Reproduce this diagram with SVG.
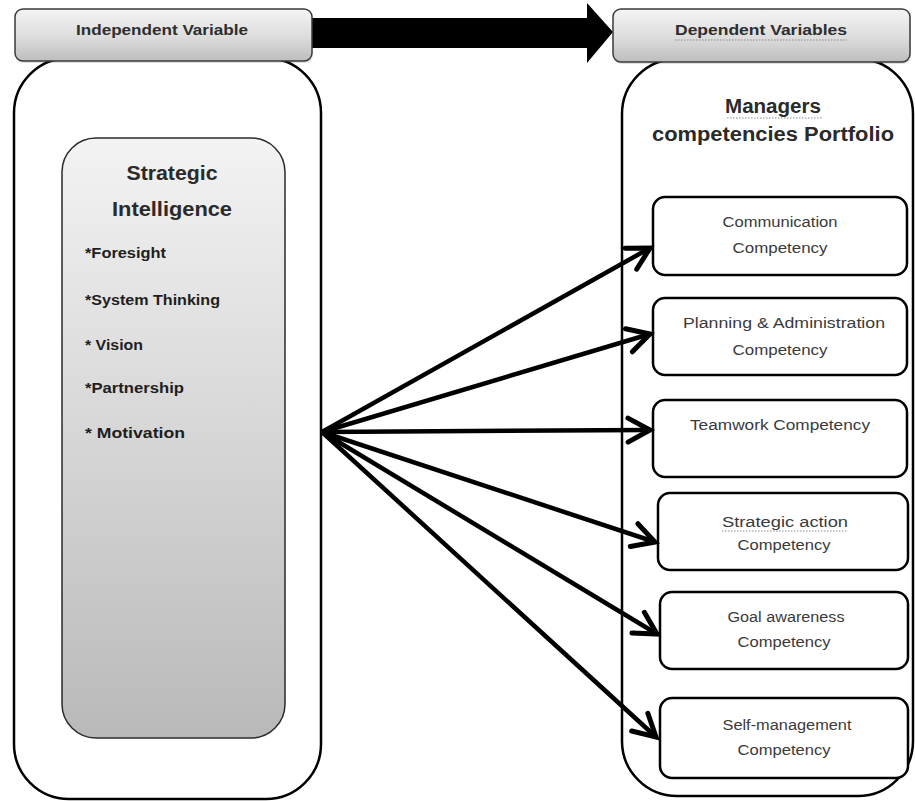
<svg xmlns="http://www.w3.org/2000/svg" width="915" height="801" viewBox="0 0 915 801">
  <defs>
    <linearGradient id="hdrGrad" x1="0" y1="0" x2="0" y2="1">
      <stop offset="0" stop-color="#f4f4f4"/>
      <stop offset="0.55" stop-color="#dcdcdc"/>
      <stop offset="1" stop-color="#bdbdbd"/>
    </linearGradient>
    <linearGradient id="innerGrad" x1="0" y1="0" x2="0" y2="1">
      <stop offset="0" stop-color="#f3f3f3"/>
      <stop offset="1" stop-color="#b9b9b9"/>
    </linearGradient>
    <marker id="openArrow" markerUnits="userSpaceOnUse" markerWidth="40" markerHeight="40" viewBox="-30 -20 40 40" refX="0" refY="0" orient="auto">
      <path d="M -22 -12 L 0 0 L -22 12" fill="none" stroke="#000" stroke-width="5" stroke-linejoin="miter" stroke-linecap="round"/>
    </marker>
  </defs>
  <style>
    .container { fill: #ffffff; stroke: #000000; stroke-width: 2.5; }
    .header { fill: url(#hdrGrad); stroke: #3a3a3a; stroke-width: 1.5; }
    .inner { fill: url(#innerGrad); stroke: #2a2a2a; stroke-width: 1.5; }
    .comp { fill: #ffffff; stroke: #000000; stroke-width: 2.5; }
    .hdrText { font-family: "Liberation Sans", Arial, sans-serif; font-weight: bold; font-size: 14px; fill: #2e2e2e; text-anchor: middle; }
    .title { font-family: "Liberation Sans", Arial, sans-serif; font-weight: bold; font-size: 20px; fill: #2a2a2a; text-anchor: middle; }
    .bullet { font-family: "Liberation Sans", Arial, sans-serif; font-weight: bold; font-size: 14px; fill: #1e1e1e; }
    .compText { font-family: "Liberation Sans", Arial, sans-serif; font-size: 14px; fill: #3a3a3a; text-anchor: middle; }
    .squiggle { stroke: #8a8a8a; stroke-width: 1; stroke-dasharray: 1.5 1.5; fill: none; }
    .conn { stroke: #000000; stroke-width: 4.5; fill: none; marker-end: url(#openArrow); }
  </style>

  <rect width="915" height="801" fill="#ffffff"/>

  <!-- Big arrow between headers -->
  <g id="main-arrow">
    <polygon points="312,18 587,18 587,3 613,32 587,63 587,48 312,48" fill="#000000"/>
  </g>

  <!-- Left side: Independent Variable -->
  <g id="independent-container">
    <rect class="container" x="14" y="58" width="307" height="741" rx="55" ry="55"/>
  </g>
  <g id="independent-header">
    <rect x="16" y="11" width="297" height="52" rx="8" ry="8" fill="#000" opacity="0.12"/>
    <rect class="header" x="15" y="9" width="297" height="52" rx="8" ry="8"/>
    <text class="hdrText" x="162" y="35" textLength="172" lengthAdjust="spacingAndGlyphs">Independent  Variable</text>
  </g>
  <g id="strategic-intelligence">
    <rect class="inner" x="62" y="138" width="223" height="600" rx="34" ry="34"/>
    <text class="title" x="172" y="180" textLength="91" lengthAdjust="spacingAndGlyphs">Strategic</text>
    <text class="title" x="172" y="216" textLength="120" lengthAdjust="spacingAndGlyphs">Intelligence</text>
    <text class="bullet" x="85" y="258" textLength="81" lengthAdjust="spacingAndGlyphs">*Foresight</text>
    <text class="bullet" x="85" y="305" textLength="135" lengthAdjust="spacingAndGlyphs">*System Thinking</text>
    <text class="bullet" x="85" y="350" textLength="58" lengthAdjust="spacingAndGlyphs">* Vision</text>
    <text class="bullet" x="85" y="393" textLength="99" lengthAdjust="spacingAndGlyphs">*Partnership</text>
    <text class="bullet" x="85" y="438" textLength="100" lengthAdjust="spacingAndGlyphs">* Motivation</text>
  </g>

  <!-- Right side: Dependent Variables -->
  <g id="dependent-container">
    <rect class="container" x="622" y="59" width="291" height="737" rx="55" ry="55"/>
    <text class="title" x="773" y="113" textLength="96" lengthAdjust="spacingAndGlyphs">Managers</text>
    <path class="squiggle" d="M727 118 L823 118"/>
    <text class="title" x="773" y="141" textLength="242" lengthAdjust="spacingAndGlyphs">competencies Portfolio</text>
  </g>
  <g id="dependent-header">
    <rect x="614" y="11" width="297" height="53" rx="8" ry="8" fill="#000" opacity="0.12"/>
    <rect class="header" x="613" y="9" width="297" height="53" rx="8" ry="8"/>
    <text class="hdrText" x="761" y="35" textLength="172" lengthAdjust="spacingAndGlyphs">Dependent  Variables</text>
    <path class="squiggle" d="M675 40 L847 40"/>
  </g>

  <g id="communication">
    <rect class="comp" x="653" y="197" width="254" height="78" rx="12" ry="12"/>
    <text class="compText" x="780" y="227" textLength="115" lengthAdjust="spacingAndGlyphs">Communication</text>
    <text class="compText" x="780" y="253" textLength="95" lengthAdjust="spacingAndGlyphs">Competency</text>
  </g>
  <g id="planning-administration">
    <rect class="comp" x="653" y="298" width="254" height="77" rx="12" ry="12"/>
    <text class="compText" x="784" y="328" textLength="202" lengthAdjust="spacingAndGlyphs">Planning  &amp; Administration</text>
    <text class="compText" x="780" y="355" textLength="95" lengthAdjust="spacingAndGlyphs">Competency</text>
  </g>
  <g id="teamwork">
    <rect class="comp" x="653" y="400" width="254" height="77" rx="12" ry="12"/>
    <text class="compText" x="780" y="430" textLength="180" lengthAdjust="spacingAndGlyphs">Teamwork Competency</text>
  </g>
  <g id="strategic-action">
    <rect class="comp" x="658" y="493" width="250" height="77" rx="12" ry="12"/>
    <text class="compText" x="785" y="527" textLength="126" lengthAdjust="spacingAndGlyphs">Strategic action</text>
    <path class="squiggle" d="M722 531 L848 531"/>
    <text class="compText" x="784" y="550" textLength="93" lengthAdjust="spacingAndGlyphs">Competency</text>
  </g>
  <g id="goal-awareness">
    <rect class="comp" x="660" y="592" width="248" height="77" rx="12" ry="12"/>
    <text class="compText" x="786" y="622" textLength="117" lengthAdjust="spacingAndGlyphs">Goal awareness</text>
    <text class="compText" x="784" y="647" textLength="93" lengthAdjust="spacingAndGlyphs">Competency</text>
  </g>
  <g id="self-management">
    <rect class="comp" x="660" y="698" width="248" height="80" rx="12" ry="12"/>
    <text class="compText" x="787" y="730" textLength="129" lengthAdjust="spacingAndGlyphs">Self-management</text>
    <text class="compText" x="784" y="755" textLength="93" lengthAdjust="spacingAndGlyphs">Competency</text>
  </g>

  <!-- Connectors -->
  <g id="connectors">
    <line class="conn" x1="322" y1="432" x2="650" y2="248"/>
    <line class="conn" x1="322" y1="432" x2="650" y2="334"/>
    <line class="conn" x1="322" y1="432" x2="650" y2="430"/>
    <line class="conn" x1="322" y1="432" x2="655" y2="542"/>
    <line class="conn" x1="322" y1="432" x2="657" y2="634"/>
    <line class="conn" x1="322" y1="432" x2="656" y2="737"/>
  </g>
</svg>
